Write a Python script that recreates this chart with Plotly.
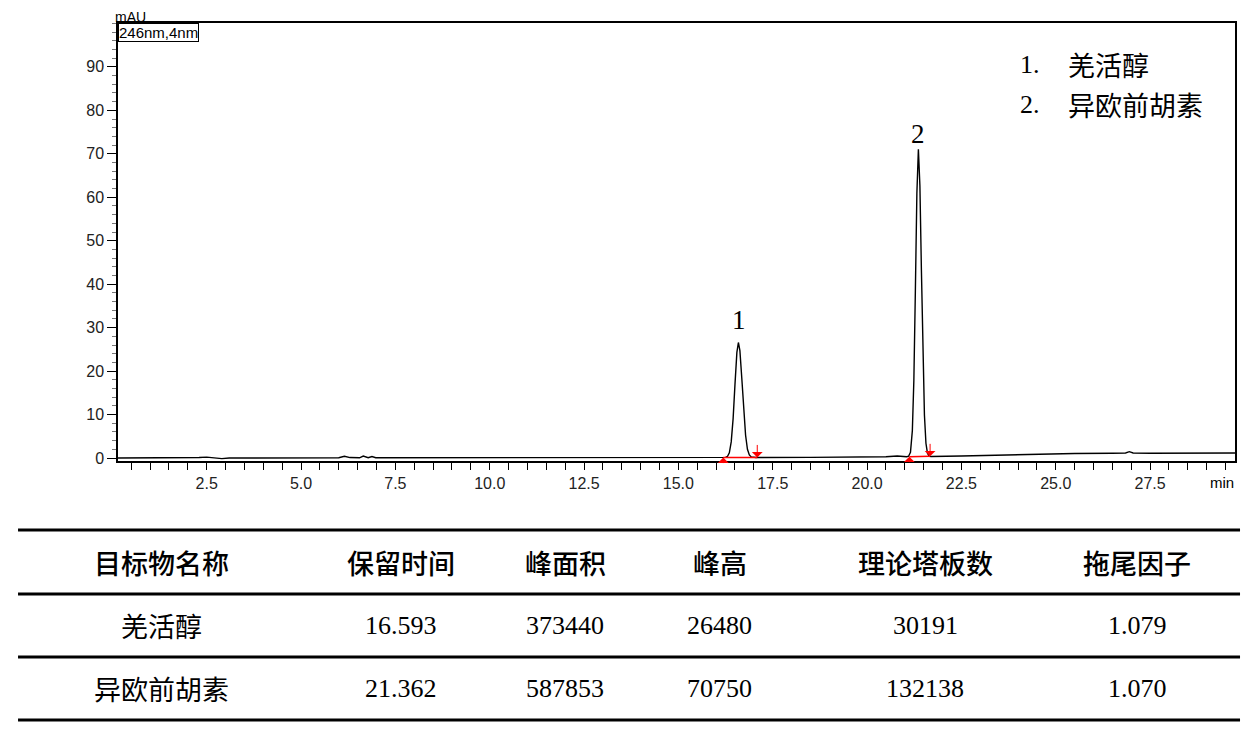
import plotly.graph_objects as go

# chromatogram, 246 nm (min, mAU)
time_min = [0.15, 2.0, 2.3, 2.5, 2.7, 2.9, 3.1, 3.5, 6.0, 6.15, 6.3, 6.55, 6.65, 6.78, 6.88, 6.98,
            9.0, 9.2, 9.4, 12.0, 14.0, 16.0, 16.2,
            16.25, 16.30, 16.35, 16.40, 16.45, 16.50, 16.55, 16.59, 16.63, 16.68, 16.73, 16.78,
            16.83, 16.88, 16.93, 16.98, 17.05, 18.5, 20.0, 20.5, 20.8, 20.95, 21.05,
            21.10, 21.15, 21.20, 21.24, 21.28, 21.32, 21.36, 21.40, 21.44, 21.48, 21.52, 21.56,
            21.60, 21.65, 21.70, 22.5, 23.5, 24.5, 25.5, 26.5, 26.85, 26.95, 27.05, 27.5, 28.5, 29.75]
signal_mau = [0.0, 0.0, 0.1, 0.2, 0.1, -0.15, 0.0, 0.0, 0.05, 0.4, 0.1, 0.05, 0.45, 0.05, 0.35, 0.05,
              0.05, 0.15, 0.05, 0.05, 0.05, 0.1, 0.1,
              0.15, 0.35, 1.2, 3.7, 9.0, 17.0, 24.3, 26.58, 24.7, 18.4, 11.0, 5.3,
              2.0, 0.7, 0.25, 0.15, 0.12, 0.15, 0.15, 0.3, 0.45, 0.3, 0.3,
              0.4, 1.3, 6.3, 17.9, 38.5, 60.9, 71.05, 62.7, 43.2, 23.3, 9.9, 3.4,
              1.1, 0.4, 0.35, 0.45, 0.7, 0.95, 1.05, 1.1, 1.15, 1.45, 1.15, 1.1, 1.1, 1.15]

# integration baselines (start, end)
base_x = [[16.19, 17.09], [21.12, 21.67]]
base_y = [[0.1, 0.13], [0.3, 0.38]]

peak_no = ["1", "2"]
peak_rt = [16.593, 21.362]
label_y = [31.8, 74.6]

compounds = ["羌活醇", "异欧前胡素"]
headers = ["目标物名称", "保留时间", "峰面积", "峰高", "理论塔板数", "拖尾因子"]
rt_col = ["16.593", "21.362"]
area_col = ["373440", "587853"]
height_col = ["26480", "70750"]
plates_col = ["30191", "132138"]
tailing_col = ["1.079", "1.070"]

fig = go.Figure()
fig.add_trace(go.Scatter(x=time_min, y=signal_mau, mode="lines",
                         line=dict(color="black", width=1.4), showlegend=False))
for bx, by in zip(base_x, base_y):
    fig.add_trace(go.Scatter(x=bx, y=by, mode="lines", line=dict(color="red", width=1.5),
                             showlegend=False))
    # peak start / end markers
    fig.add_annotation(x=bx[0], y=by[0], ax=0, ay=7, showarrow=True, arrowhead=1, arrowsize=1.8,
                       arrowcolor="red", arrowwidth=1, text="")
    fig.add_annotation(x=bx[1], y=by[1], ax=0, ay=-14, showarrow=True, arrowhead=1, arrowsize=1.8,
                       arrowcolor="red", arrowwidth=1, text="")

for n, rt, ly in zip(peak_no, peak_rt, label_y):
    fig.add_annotation(x=rt, y=ly, text=n, showarrow=False, xanchor="center", yanchor="middle",
                       font=dict(family="Liberation Serif", size=27, color="black"))

serif = dict(family="Liberation Serif", size=26, color="black")
cjk = dict(family="Noto Sans CJK SC", size=27, color="black")

# legend box top right
for i, (n, name) in enumerate(zip(peak_no, compounds)):
    yy = 0.906 - i * 0.093
    fig.add_annotation(xref="paper", yref="paper", x=0.8057, y=yy, xanchor="left", yanchor="middle",
                       text=n + ".", showarrow=False, font=serif)
    fig.add_annotation(xref="paper", yref="paper", x=0.8487, y=yy, xanchor="left", yanchor="middle",
                       text=name, showarrow=False, font=cjk)

fig.add_annotation(xref="paper", yref="paper", x=0.0, y=1.0, xanchor="left", yanchor="top",
                   text="246nm,4nm", showarrow=False, bordercolor="black", borderwidth=1,
                   borderpad=0, font=dict(family="Liberation Sans", size=15, color="black"))
fig.add_annotation(xref="paper", yref="paper", x=0.0116, y=1.0145, xanchor="center", yanchor="middle",
                   text="mAU", showarrow=False, borderpad=0,
                   font=dict(family="Liberation Sans", size=14, color="black"))
fig.add_annotation(xref="paper", yref="paper", x=0.988, y=-0.05, xanchor="center", yanchor="middle",
                   text="min", showarrow=False,
                   font=dict(family="Liberation Sans", size=15, color="black"))

# results table under the chromatogram
col_x = [0.0385, 0.2534, 0.4002, 0.5389, 0.7225, 0.9123]
for ly in [-0.1575, -0.3037, -0.4475, -0.5913]:
    fig.add_shape(type="line", xref="paper", yref="paper", x0=-0.0895, x1=1.0045, y0=ly, y1=ly,
                  line=dict(color="black", width=3))
for cx, h in zip(col_x, headers):
    fig.add_annotation(xref="paper", yref="paper", x=cx, y=-0.2306, text=h,
                       xanchor="center", yanchor="middle", showarrow=False,
                       font=dict(family="Noto Sans CJK SC", size=27, weight=500, color="black"))
rows = list(zip(compounds, rt_col, area_col, height_col, plates_col, tailing_col))
for r, row in enumerate(rows):
    yy = -0.3767 - r * 0.1438
    for c, (cx, val) in enumerate(zip(col_x, row)):
        fig.add_annotation(xref="paper", yref="paper", x=cx, y=yy, text=val, showarrow=False,
                           xanchor="center", yanchor="middle",
                           font=cjk if c == 0 else serif)

fig.update_xaxes(range=[0.15, 29.75], tickvals=[2.5, 5, 7.5, 10, 12.5, 15, 17.5, 20, 22.5, 25, 27.5],
                 tickformat=".1f", ticks="outside", ticklen=7, tickcolor="black",
                 minor=dict(dtick=0.5, tick0=0, ticks="outside", ticklen=7, tickcolor="black"),
                 showline=True, linecolor="black", linewidth=1.5, mirror=True,
                 showgrid=False, zeroline=False,
                 tickfont=dict(family="Liberation Sans", size=16, color="#222222"))
fig.update_yaxes(range=[-0.69, 100.1], tickvals=list(range(0, 100, 10)),
                 ticks="outside", ticklen=9, tickcolor="black",
                 minor=dict(dtick=2, tick0=0, ticks="outside", ticklen=4, tickcolor="#777777"),
                 showline=True, linecolor="black", linewidth=1.5, mirror=True,
                 showgrid=False, zeroline=False,
                 tickfont=dict(family="Liberation Sans", size=16, color="#222222"))
# page body keeps an 8px margin, so the figure is a little smaller than the window
fig.update_layout(width=1244, height=718, plot_bgcolor="white", paper_bgcolor="white",
                  margin=dict(l=110, r=17, t=15, b=265, autoexpand=False), showlegend=False)
fig.write_html("out.html")
